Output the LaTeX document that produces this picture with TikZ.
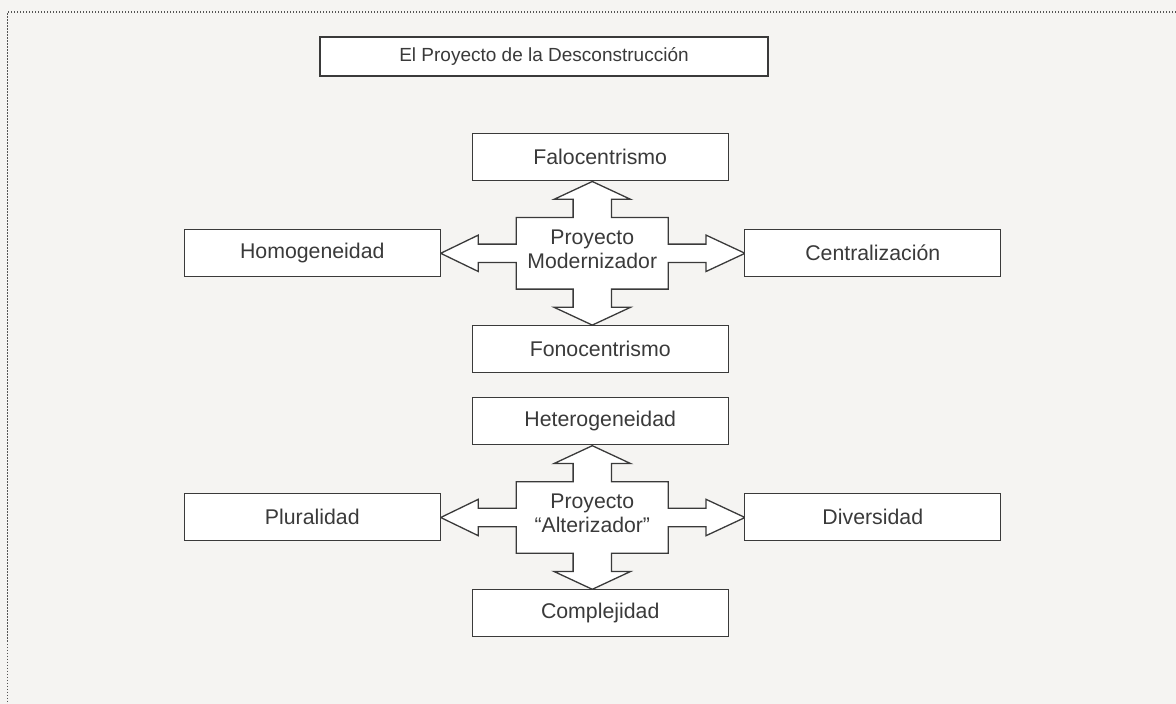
\documentclass[tikz,border=0pt]{standalone}
\usepackage{fontspec}
\setmainfont{Liberation Sans}
\usetikzlibrary{calc}

\definecolor{paper}{HTML}{F5F4F2}
\definecolor{ink}{HTML}{3A3A3A}
\definecolor{frameink}{HTML}{555555}

\tikzset{
  conceptbox/.style={draw=ink, line width=1.3pt, fill=white, text=ink,
    minimum width=256pt, minimum height=47pt, inner sep=0pt,
    font=\fontsize{21.3}{25}\selectfont},
  titlebox/.style={conceptbox, minimum width=448pt, minimum height=39pt,
    font=\fontsize{19}{23}\selectfont},
  hubtext/.style={text=ink, align=center, inner sep=0pt,
    font=\fontsize{21.2}{24.3}\selectfont},
  crossline/.style={draw=ink, line width=1.3pt, fill=white, line join=miter},
  % four-way block arrow centred on the origin
  pics/fourway/.style={code={
    \path[crossline]
      (0,-71.8) -- (38.2,-54) -- (19.2,-54) -- (19.2,-35.8)
      -- (76,-35.8) -- (76,-9.2) -- (113.7,-9.2) -- (113.7,-18.2)
      -- (152.7,0) -- (113.7,18.2) -- (113.7,9.2) -- (76,9.2)
      -- (76,35.8) -- (19.2,35.8) -- (19.2,54) -- (38.2,54)
      -- (0,71.8) -- (-38.2,54) -- (-19.2,54) -- (-19.2,35.8)
      -- (-76,35.8) -- (-76,9.2) -- (-114,9.2) -- (-114,18.2)
      -- (-151.6,0) -- (-114,-18.2) -- (-114,-9.2) -- (-76,-9.2)
      -- (-76,-35.8) -- (-19.2,-35.8) -- (-19.2,-54) -- (-38.2,-54)
      -- cycle;
  }},
}

\begin{document}
\begin{tikzpicture}[x=1pt, y=-1pt]
  % page and dotted frame
  \fill[paper] (0,0) rectangle (1176,704);
  \useasboundingbox (0,0) rectangle (1176,704);
  \coordinate (frameTL) at (7.5,12);
  \coordinate (frameTR) at (1176,12);
  \coordinate (frameBL) at (7.5,704);
  \draw[frameink, line width=1.2pt, dash pattern=on 1.2pt off 1.8pt]
    (frameTR) -- (frameTL) -- (frameBL);

  % heading
  \node[titlebox] (title) at (544,56.5) {El Proyecto de la Desconstrucción};

  % modernising project
  \pic at (592.3,253.3) {fourway};
  \node[hubtext] (modern) at (592.3,249) {Proyecto\\Modernizador};
  \node[conceptbox] (falo)   at (600.2,156.7) {Falocentrismo};
  \node[conceptbox] (homo)   at (312.3,252.7) {Homogeneidad};
  \node[conceptbox] (centr)  at (872.8,252.7) {Centralización};
  \node[conceptbox] (fono)   at (600.2,348.7) {Fonocentrismo};

  % othering project
  \pic at (592.3,517.5) {fourway};
  \node[hubtext] (alter) at (592.3,513.2) {Proyecto\\“Alterizador”};
  \node[conceptbox] (hetero) at (600.2,420.8) {Heterogeneidad};
  \node[conceptbox] (plur)   at (312.3,517) {Pluralidad};
  \node[conceptbox] (div)    at (872.8,517) {Diversidad};
  \node[conceptbox] (comp)   at (600.2,613) {Complejidad};
\end{tikzpicture}
\end{document}
